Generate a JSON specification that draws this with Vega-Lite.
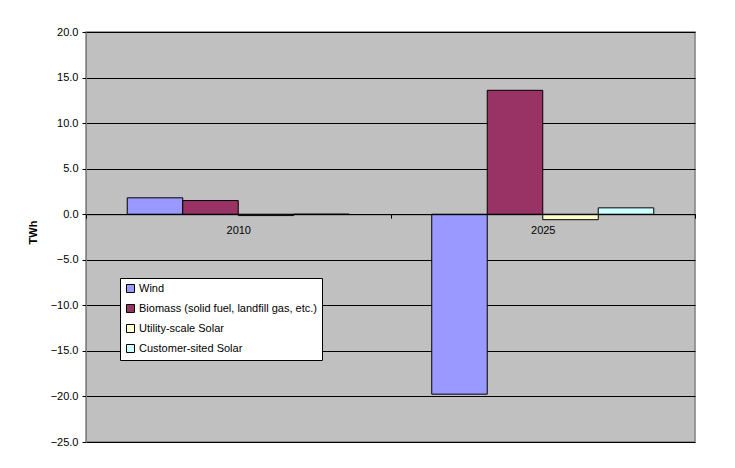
{
  "$schema": "https://vega.github.io/schema/vega-lite/v6.json",
  "autosize": "none",
  "width": 609,
  "height": 410,
  "padding": {"left": 86, "top": 32, "right": 40, "bottom": 26},
  "background": "white",
  "config": {
    "font": "Liberation Sans",
    "view": {"fill": "#C0C0C0", "stroke": "#808080", "strokeWidth": 1.5}
  },
  "data": {
    "values": [
      {"year": "2010", "source": "Wind", "twh": 1.8},
      {"year": "2010", "source": "Biomass (solid fuel, landfill gas, etc.)", "twh": 1.5},
      {"year": "2010", "source": "Utility-scale Solar", "twh": -0.15},
      {"year": "2010", "source": "Customer-sited Solar", "twh": 0.0},
      {"year": "2025", "source": "Wind", "twh": -19.75},
      {"year": "2025", "source": "Biomass (solid fuel, landfill gas, etc.)", "twh": 13.6},
      {"year": "2025", "source": "Utility-scale Solar", "twh": -0.6},
      {"year": "2025", "source": "Customer-sited Solar", "twh": 0.7}
    ]
  },
  "mark": {"type": "bar", "stroke": "black", "strokeWidth": 1},
  "encoding": {
    "x": {
      "field": "year",
      "type": "nominal",
      "scale": {"paddingInner": 0, "paddingOuter": 0},
      "axis": {
        "title": null,
        "labelAngle": 0,
        "offset": -227.8,
        "domainColor": "black",
        "domainWidth": 1,
        "tickColor": "black",
        "tickSize": 4,
        "tickBand": "extent",
        "labelPadding": 6,
        "labelFontSize": 11,
        "labelColor": "black",
        "zindex": 1
      }
    },
    "xOffset": {
      "field": "source",
      "type": "nominal",
      "sort": ["Wind", "Biomass (solid fuel, landfill gas, etc.)", "Utility-scale Solar", "Customer-sited Solar"],
      "scale": {"paddingInner": 0, "paddingOuter": 0.743}
    },
    "y": {
      "field": "twh",
      "type": "quantitative",
      "scale": {"domain": [-25, 20], "nice": false, "zero": false},
      "axis": {
        "title": "TWh",
        "titleFontSize": 11,
        "titleFontWeight": "bold",
        "titleColor": "black",
        "titleX": -48,
        "titleY": 200,
        "titleAlign": "center",
        "values": [-25, -20, -15, -10, -5, 0, 5, 10, 15, 20],
        "format": ".1f",
        "labelFontSize": 11,
        "labelColor": "black",
        "labelPadding": 4,
        "tickColor": "black",
        "tickSize": 4,
        "domainColor": "#808080",
        "grid": true,
        "gridColor": "black",
        "gridWidth": 1,
        "gridOpacity": 1
      }
    },
    "color": {
      "field": "source",
      "type": "nominal",
      "sort": ["Wind", "Biomass (solid fuel, landfill gas, etc.)", "Utility-scale Solar", "Customer-sited Solar"],
      "scale": {
        "domain": ["Wind", "Biomass (solid fuel, landfill gas, etc.)", "Utility-scale Solar", "Customer-sited Solar"],
        "range": ["#9999FF", "#993366", "#FFFFCC", "#CCFFFF"]
      },
      "legend": {
        "title": null,
        "orient": "none",
        "legendX": 34,
        "legendY": 246,
        "fillColor": "white",
        "strokeColor": "black",
        "padding": 5,
        "symbolType": "square",
        "symbolSize": 64,
        "symbolStrokeColor": "black",
        "symbolStrokeWidth": 1,
        "symbolOpacity": 1,
        "labelFontSize": 11,
        "labelColor": "black",
        "labelOffset": 3,
        "rowPadding": 7,
        "labelLimit": 300
      }
    }
  }
}
